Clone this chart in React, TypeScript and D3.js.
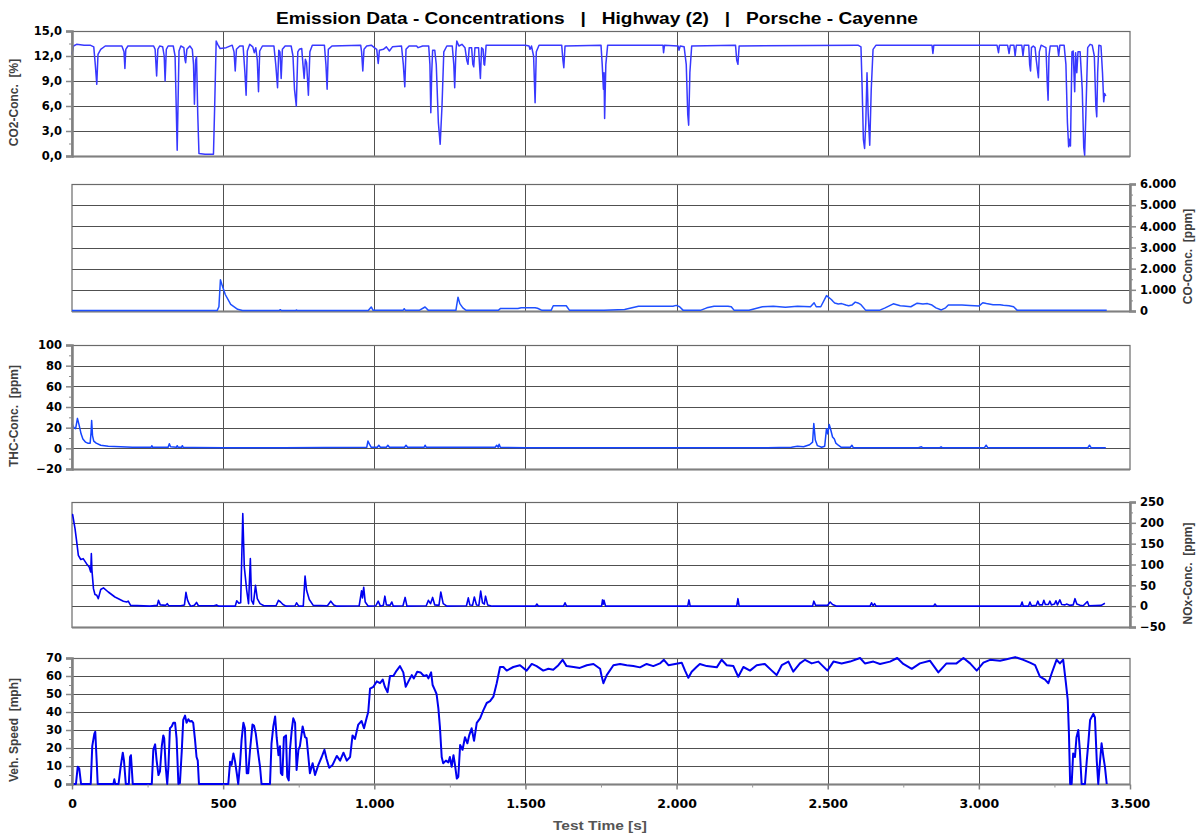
import * as d3 from "d3";
import { useEffect, useRef } from "react";

// [time s, value]
const co2: [number, number][] = [
  [0, 12.2], [5, 13.2], [15, 13.4], [40, 13.3], [60, 13.3], [72, 13.1], [77, 11], [82, 8.6], [86, 12.2], [95, 12.8], [110, 13.2],
  [165, 13.2], [172, 12.5], [175, 10.5], [178, 12.8], [185, 13.2], [270, 13.2], [275, 12.8], [280, 9.6], [284, 12.8], [290, 13.2],
  [300, 13.1], [305, 12], [308, 9.0], [312, 12.8], [318, 13.2], [335, 13.2], [341, 12], [348, 0.7], [354, 12.6], [360, 13.2],
  [370, 13], [374, 11.5], [376, 11.2], [380, 12.8], [390, 13.2], [398, 12.8], [402, 11], [405, 6.2], [409, 11.5], [412, 11.9],
  [416, 5], [420, 0.3], [440, 0.2], [468, 0.2], [472, 6], [477, 13.8], [482, 13.4], [490, 12.9], [510, 13.0], [530, 13.3],
  [536, 12.5], [540, 10.2], [544, 12.8], [555, 13.2], [566, 13.2], [572, 10], [576, 7.3], [580, 12.6], [588, 13.4], [598, 13.1],
  [603, 12.4], [608, 13], [613, 11.5], [617, 7.7], [621, 12.6], [630, 13.2], [668, 13.2], [674, 11], [680, 8.2], [684, 12.7],
  [688, 12.5], [692, 9.3], [696, 12.8], [705, 13.2], [725, 13.2], [731, 12.0], [736, 8], [742, 6.0], [747, 12.5], [752, 12.8],
  [760, 12.9], [764, 11], [768, 9.3], [772, 11.6], [776, 11.2], [782, 7.3], [787, 12.5], [795, 13.3], [835, 13.3], [840, 11],
  [844, 8.0], [848, 12.8], [860, 13.2], [955, 13.3], [958, 12.5], [962, 10.2], [966, 12.8], [975, 13.2], [990, 13.3], [1000, 13.0],
  [1008, 12.8], [1013, 11.1], [1017, 12.7], [1030, 12.8], [1040, 13.1], [1050, 12.6], [1060, 13.1], [1090, 13.2], [1096, 11],
  [1101, 8.3], [1105, 12.8], [1115, 13.2], [1140, 13.2], [1145, 13], [1160, 13.2], [1180, 13.2], [1184, 11], [1187, 5.2], [1190, 10],
  [1193, 12.7], [1200, 12.7], [1205, 11], [1212, 4], [1218, 1.4], [1224, 6], [1230, 12.5], [1240, 13.2], [1258, 13.2], [1263, 11],
  [1266, 8.2], [1270, 12.5], [1273, 13.8], [1280, 13.2], [1290, 13.4], [1300, 13], [1306, 11.5], [1310, 11], [1314, 13], [1322, 13],
  [1326, 11], [1329, 10.7], [1333, 13], [1345, 13], [1348, 11], [1351, 9.3], [1355, 13], [1360, 12.8], [1363, 11], [1365, 10.9],
  [1370, 13.3], [1500, 13.3], [1512, 13.2], [1515, 12.8], [1520, 13.2], [1527, 12], [1532, 6.4], [1536, 12.5], [1545, 13.3],
  [1620, 13.3], [1624, 11.5], [1627, 10.6], [1631, 13.2], [1750, 13.3], [1754, 11], [1758, 8.0], [1760, 10], [1762, 4.5],
  [1766, 11], [1772, 13.3], [1955, 13.3], [1957, 12.4], [1960, 13.3], [2005, 13.2], [2008, 12.7], [2012, 13.2], [2025, 13.1],
  [2032, 11], [2037, 5], [2040, 3.7], [2044, 10], [2050, 13.2], [2195, 13.3], [2199, 11.5], [2203, 11], [2207, 13.2], [2600, 13.3],
  [2610, 13.1], [2614, 8], [2618, 2], [2622, 0.9], [2626, 4], [2630, 10], [2634, 5], [2639, 1.3], [2644, 8], [2650, 12.8],
  [2660, 13.3], [2845, 13.3], [2848, 12.3], [2851, 13.3], [3060, 13.3], [3065, 12.4], [3068, 13.3], [3095, 13.3], [3100, 12.3],
  [3104, 13.3], [3116, 13.3], [3120, 12.0], [3124, 13.3], [3142, 13.3], [3146, 12.0], [3150, 13.3], [3165, 13.3], [3168, 11],
  [3171, 10.2], [3174, 13], [3180, 13.2], [3186, 13], [3190, 11.5], [3197, 9.4], [3200, 12.5], [3206, 13.3], [3222, 13], [3226, 9],
  [3229, 6.7], [3232, 12], [3236, 13.2], [3260, 13.2], [3264, 12], [3268, 13.3], [3282, 13.3], [3288, 11], [3293, 4], [3297, 1.1],
  [3300, 2], [3303, 1.2], [3308, 12.5], [3312, 12.6], [3317, 7.7], [3320, 12.4], [3324, 10], [3328, 12.5], [3335, 12.5],
  [3342, 8], [3347, 1], [3350, 0.1], [3354, 5], [3360, 13], [3368, 13.4], [3375, 13.3], [3382, 12], [3387, 6], [3390, 4.7],
  [3393, 10], [3397, 13.3], [3404, 13.2], [3409, 10], [3413, 6.5], [3416, 7.5], [3420, 7.2],
];

const co: [number, number][] = [
  [0, 20], [480, 20], [486, 200], [491, 1480], [497, 1200], [507, 780], [525, 310], [548, 80], [564, 20], [685, 20], [689, 60],
  [693, 20], [740, 20], [742, 50], [746, 20], [980, 20], [990, 190], [996, 30], [1095, 30], [1099, 110], [1103, 30], [1150, 40],
  [1168, 190], [1179, 30], [1270, 30], [1277, 650], [1283, 350], [1293, 150], [1304, 30], [1410, 30], [1418, 120], [1475, 120],
  [1486, 155], [1532, 155], [1540, 130], [1555, 30], [1585, 30], [1592, 250], [1635, 250], [1646, 30], [1737, 40], [1760, 40],
  [1828, 70], [1874, 220], [1988, 220], [1999, 265], [2010, 200], [2022, 30], [2079, 30], [2100, 150], [2124, 220], [2170, 220],
  [2181, 200], [2190, 40], [2204, 30], [2240, 40], [2284, 200], [2320, 230], [2360, 180], [2400, 230], [2443, 200], [2455, 390],
  [2462, 200], [2477, 200], [2496, 730], [2512, 545], [2518, 450], [2523, 380], [2535, 330], [2546, 350], [2560, 280], [2569, 250],
  [2580, 280], [2591, 420], [2600, 380], [2610, 300], [2626, 30], [2671, 30], [2690, 150], [2717, 340], [2740, 250], [2751, 240],
  [2775, 200], [2796, 370], [2815, 330], [2830, 350], [2845, 280], [2858, 150], [2876, 50], [2890, 150], [2899, 280], [2944, 280],
  [2970, 260], [3001, 240], [3013, 390], [3025, 350], [3047, 300], [3070, 300], [3081, 270], [3100, 250], [3115, 200], [3127, 30],
  [3423, 30],
];

const thc: [number, number][] = [
  [0, 24], [6, 20], [12, 19], [18, 29], [24, 22], [30, 14], [36, 9], [45, 6], [52, 5], [60, 5], [63, 15], [65, 27], [68, 12],
  [72, 7], [80, 5], [95, 3], [120, 2], [160, 1.5], [200, 1], [262, 1], [264, 2.5], [267, 1], [318, 1], [322, 4.5], [326, 1.5],
  [345, 1], [348, 2.5], [351, 1], [362, 1], [365, 2.5], [368, 1], [400, 0.8], [500, 0.5], [700, 0.5], [975, 1], [979, 7], [984, 4],
  [990, 1], [1010, 1], [1015, 3], [1020, 1], [1040, 1], [1045, 3], [1050, 1], [1100, 1], [1105, 3], [1110, 1], [1165, 1],
  [1168, 3], [1172, 1], [1400, 1], [1405, 3], [1410, 1], [1413, 4], [1417, 1], [1500, 0.5], [2300, 0.5], [2380, 1], [2400, 2],
  [2420, 1.5], [2440, 3.5], [2450, 6], [2454, 24], [2459, 8], [2466, 2.6], [2480, 1], [2490, 2], [2496, 19], [2500, 14],
  [2505, 23], [2510, 18], [2516, 11], [2522, 9], [2527, 5], [2535, 3], [2545, 1], [2575, 1], [2580, 3], [2585, 0.5], [2800, 0.5],
  [2810, 1.5], [2815, 0.5], [2870, 0.5], [2875, 1.5], [2880, 0.5], [3018, 0.5], [3024, 3], [3030, 0.5], [3360, 0.5], [3366, 3],
  [3372, 0.5], [3420, 0.5],
];

const nox: [number, number][] = [
  [0, 220], [2, 220], [10, 186], [15, 158], [21, 122], [29, 112], [37, 114], [48, 102], [57, 94], [62, 82], [64, 126], [66, 86],
  [71, 42], [76, 28], [82, 26], [87, 18], [95, 40], [104, 44], [120, 34], [142, 22], [170, 12], [181, 10], [186, 12], [194, 2],
  [258, 0], [282, 2], [286, 14], [292, 3], [310, 2], [315, 6], [320, 1], [360, 1], [372, 3], [377, 33], [382, 15], [388, 5],
  [393, 0], [405, 2], [412, 9], [418, 1], [470, 1], [478, 3], [486, 0], [540, 0], [545, 13], [552, 7], [558, 8], [565, 222],
  [570, 94], [578, 38], [584, 6], [590, 114], [594, 14], [600, 5], [607, 50], [613, 18], [622, 6], [635, 1], [675, 1], [683, 14],
  [690, 10], [698, 4], [708, 0], [738, 1], [743, 8], [750, 0], [765, 0], [771, 72], [776, 38], [785, 16], [798, 2], [845, 1],
  [856, 12], [866, 3], [876, 0], [950, 1], [958, 37], [961, 20], [965, 45], [970, 10], [980, 0], [1005, 1], [1013, 12], [1020, 0],
  [1030, 2], [1035, 24], [1040, 3], [1052, 2], [1058, 10], [1063, 0], [1095, 1], [1102, 21], [1108, 0], [1172, 1], [1179, 14],
  [1186, 6], [1193, 21], [1200, 3], [1214, 2], [1220, 34], [1228, 6], [1240, 0], [1305, 1], [1311, 20], [1316, 3], [1325, 2],
  [1331, 22], [1338, 3], [1346, 2], [1352, 36], [1358, 8], [1364, 5], [1368, 24], [1375, 3], [1390, 0], [1533, 0], [1538, 5],
  [1543, 0], [1626, 0], [1631, 8], [1636, 0], [1752, 0], [1755, 15], [1758, 5], [1760, 14], [1765, 0], [2037, 0], [2041, 15],
  [2045, 0], [2199, 0], [2203, 18], [2207, 0], [2450, 0], [2454, 12], [2460, 2], [2500, 2], [2508, 10], [2516, 4], [2530, 0],
  [2640, 0], [2645, 8], [2650, 1], [2655, 6], [2660, 0], [2850, 0], [2855, 5], [2860, 0], [3138, 0], [3143, 10], [3147, 0],
  [3164, 0], [3169, 10], [3174, 1], [3190, 2], [3195, 12], [3200, 3], [3210, 3], [3215, 14], [3220, 4], [3230, 4], [3235, 12],
  [3240, 3], [3250, 5], [3255, 13], [3260, 3], [3268, 15], [3274, 4], [3285, 3], [3290, 5], [3300, 2], [3312, 3], [3318, 18],
  [3324, 5], [3335, 2], [3345, 1], [3359, 11], [3364, 1], [3405, 2], [3417, 7],
];

const speed: [number, number][] = [
  [0, 0], [13, 0], [19, 9.6], [24, 8.5], [30, 0], [62, 0], [67, 21], [74, 28], [77, 29], [82, 11.5], [85, 0], [137, 0], [140, 2.6],
  [143, 0], [154, 0], [161, 9.6], [168, 17.4], [172, 13], [178, 0], [188, 0], [192, 15], [195, 16], [201, 0], [264, 0], [269, 19],
  [275, 22], [280, 13], [286, 5], [291, 7], [297, 21], [302, 27], [305, 25.4], [310, 9.6], [315, 0], [319, 9.6], [324, 31],
  [330, 32], [335, 34], [341, 34], [346, 25.4], [352, 0], [357, 0.5], [363, 18], [368, 35.6], [374, 38], [379, 34], [385, 36],
  [390, 34.7], [396, 35], [401, 34], [407, 24.5], [412, 15], [416, 13], [420, 0], [517, 0], [523, 12.4], [528, 10.6], [534, 17],
  [539, 13], [545, 6], [550, 0], [556, 11.5], [561, 24.5], [567, 34], [572, 31], [578, 6], [583, 6], [589, 19], [597, 33],
  [602, 32.5], [608, 28], [616, 17], [622, 9.6], [627, 0], [655, 0], [660, 22.6], [666, 32], [672, 37.5], [677, 26], [683, 16],
  [688, 21], [691, 6], [696, 5], [701, 26], [708, 27], [712, 4], [717, 2], [721, 19], [727, 30], [732, 36.5], [738, 34],
  [743, 7.8], [749, 19], [754, 21], [763, 32], [771, 26], [776, 25.5], [782, 15], [787, 6], [796, 11.5], [804, 5], [815, 10.6],
  [826, 15], [835, 19], [842, 14], [851, 9], [862, 10.6], [876, 15.6], [887, 13], [898, 17.4], [909, 13], [920, 15], [928, 27],
  [936, 25], [947, 33], [958, 35], [966, 31], [975, 37], [980, 40], [986, 53], [997, 54], [1008, 57], [1019, 56], [1028, 58],
  [1035, 54], [1044, 51], [1052, 60], [1063, 60], [1074, 63], [1085, 65.5], [1096, 62], [1104, 54], [1113, 57], [1124, 60.5],
  [1131, 58.7], [1142, 62.4], [1153, 62], [1164, 60], [1173, 60.5], [1179, 58.7], [1188, 62], [1193, 55], [1201, 52], [1206, 50],
  [1212, 42], [1217, 32], [1223, 15], [1228, 11.5], [1237, 13], [1245, 12], [1250, 15], [1256, 9.6], [1262, 16], [1267, 10.6],
  [1273, 3], [1278, 4], [1284, 21.7], [1292, 19], [1300, 26], [1308, 22.6], [1314, 27], [1322, 31], [1330, 24], [1339, 34],
  [1350, 36.5], [1361, 41], [1372, 45], [1383, 46], [1394, 48.5], [1405, 56], [1416, 65], [1427, 65], [1438, 63], [1460, 65],
  [1482, 66], [1504, 63], [1521, 66.7], [1537, 65.5], [1559, 63], [1576, 64], [1592, 63.5], [1609, 66], [1623, 69], [1636, 65.5],
  [1659, 65], [1680, 64.5], [1703, 66], [1725, 66.7], [1747, 64], [1752, 60], [1758, 56], [1769, 60.5], [1791, 66], [1813, 66.7],
  [1835, 66], [1857, 65.5], [1879, 64.8], [1901, 66.7], [1923, 65.5], [1945, 67], [1958, 69], [1973, 66], [1995, 66.7],
  [2017, 67.4], [2028, 63], [2039, 59], [2050, 62.4], [2066, 65], [2077, 66.7], [2100, 65.5], [2133, 64.8], [2149, 69],
  [2166, 66], [2188, 65.5], [2204, 59.6], [2221, 65], [2243, 63], [2265, 66], [2292, 66.7], [2315, 63], [2331, 60.5], [2348, 66],
  [2370, 68], [2386, 62.4], [2408, 67], [2425, 69], [2447, 67], [2469, 68], [2499, 63], [2519, 68], [2546, 67], [2574, 68],
  [2607, 70], [2623, 67], [2651, 68], [2673, 66.7], [2706, 68], [2730, 70], [2750, 66.7], [2778, 64], [2805, 67], [2838, 68.5],
  [2866, 62], [2893, 67], [2926, 67], [2949, 70], [2971, 67], [2993, 63], [3015, 67.4], [3037, 69], [3070, 68.5], [3092, 69.3],
  [3120, 70.5], [3147, 69], [3169, 67.4], [3186, 66], [3202, 59.6], [3219, 58], [3230, 56], [3241, 61.5], [3257, 69], [3268, 67],
  [3279, 69], [3288, 56], [3294, 46.7], [3298, 28], [3302, 0], [3307, 0], [3312, 17], [3318, 15], [3323, 26], [3329, 30],
  [3334, 19], [3340, 0], [3351, 0], [3357, 13], [3362, 22.6], [3368, 35.6], [3379, 39], [3384, 37], [3390, 13], [3395, 0],
  [3401, 13], [3406, 22.6], [3412, 15], [3417, 9.6], [3423, 0],
];

const xTicks = [0, 500, 1000, 1500, 2000, 2500, 3000, 3500];
const xMinor = [250, 750, 1250, 1750, 2250, 2750, 3250];
const title = "Emission Data - Concentrations   |   Highway (2)   |   Porsche - Cayenne";

const de = d3.formatLocale({ decimal: ",", thousands: ".", grouping: [3], currency: ["", "€"] });

interface Panel {
  data: [number, number][];
  top: number;
  bottom: number;
  domain: [number, number];
  step: number;
  side: "left" | "right";
  label: string;
  fmt: (n: number) => string;
  color: string;
  width: number;
}

const panels: Panel[] = [
  { data: co2, top: 31, bottom: 156, domain: [0, 15], step: 3, side: "left", label: "CO2-Conc.  [%]", fmt: de.format(".1f"), color: "#3838ff", width: 1.5 },
  { data: co, top: 184, bottom: 311, domain: [0, 6000], step: 1000, side: "right", label: "CO-Conc.  [ppm]", fmt: de.format(",d"), color: "#1f50ff", width: 1.5 },
  { data: thc, top: 345, bottom: 469, domain: [-20, 100], step: 20, side: "left", label: "THC-Conc.  [ppm]", fmt: de.format("d"), color: "#1444ff", width: 1.5 },
  { data: nox, top: 502, bottom: 627, domain: [-50, 250], step: 50, side: "right", label: "NOx-Conc.  [ppm]", fmt: de.format("d"), color: "#0000f0", width: 1.6 },
  { data: speed, top: 658, bottom: 784, domain: [0, 70], step: 10, side: "left", label: "Veh. Speed  [mph]", fmt: de.format("d"), color: "#0000f0", width: 2 },
];

const W = 1204;
const H = 836;
const x0 = 72;
const x1 = 1130;

export default function App() {
  const ref = useRef<SVGSVGElement>(null);

  useEffect(() => {
    if (!ref.current) return;
    const svg = d3.select(ref.current);
    svg.selectAll("*").remove();

    const x = d3.scaleLinear().domain([0, 3500]).range([x0, x1]);

    svg
      .append("text")
      .attr("x", 597)
      .attr("y", 24)
      .attr("text-anchor", "middle")
      .attr("font-family", "Liberation Sans, Arial, sans-serif")
      .attr("font-weight", "bold")
      .attr("font-size", 16)
      .attr("textLength", 642)
      .attr("lengthAdjust", "spacingAndGlyphs")
      .style("white-space", "pre")
      .text(title);

    panels.forEach((p) => {
      const y = d3.scaleLinear().domain(p.domain).range([p.bottom, p.top]);
      const g = svg.append("g");
      const major = d3.range(p.domain[0], p.domain[1] + p.step / 2, p.step);
      const minor = d3.range(p.domain[0] + p.step / 2, p.domain[1], p.step);

      // grid
      g.append("g")
        .selectAll("line")
        .data(major)
        .join("line")
        .attr("x1", x0)
        .attr("x2", x1)
        .attr("y1", (d) => Math.round(y(d)) + 0.5)
        .attr("y2", (d) => Math.round(y(d)) + 0.5)
        .attr("stroke", "#505050")
        .attr("stroke-width", 1);
      g.append("g")
        .selectAll("line")
        .data(xTicks.slice(1, -1))
        .join("line")
        .attr("x1", (d) => Math.round(x(d)) + 0.5)
        .attr("x2", (d) => Math.round(x(d)) + 0.5)
        .attr("y1", p.top)
        .attr("y2", p.bottom)
        .attr("stroke", "#505050")
        .attr("stroke-width", 1);

      // frame
      g.append("rect")
        .attr("x", x0)
        .attr("y", Math.round(p.top) + 0.5)
        .attr("width", x1 - x0)
        .attr("height", Math.round(p.bottom) - Math.round(p.top))
        .attr("fill", "none")
        .attr("stroke", "#6a6a6a")
        .attr("stroke-width", 1.2);
      g.append("line")
        .attr("x1", x0)
        .attr("x2", x1)
        .attr("y1", p.bottom + 0.5)
        .attr("y2", p.bottom + 0.5)
        .attr("stroke", "#808080")
        .attr("stroke-width", 2);

      // series
      const line = d3
        .line<[number, number]>()
        .x((d) => x(d[0]))
        .y((d) => y(d[1]));
      g.append("path")
        .datum(p.data)
        .attr("d", line)
        .attr("fill", "none")
        .attr("stroke", p.color)
        .attr("stroke-width", p.width)
        .attr("stroke-linejoin", "round");

      // y axis
      const ax = p.side === "left" ? d3.axisLeft(y) : d3.axisRight(y);
      const axMinor = p.side === "left" ? d3.axisLeft(y) : d3.axisRight(y);
      const ax0 = p.side === "left" ? x0 : x1;
      const yAxis = g
        .append("g")
        .attr("transform", `translate(${ax0},0)`)
        .call(ax.tickValues(major).tickSize(6).tickPadding(4).tickFormat((d) => p.fmt(+d)));
      g.append("g")
        .attr("transform", `translate(${ax0},0)`)
        .call(axMinor.tickValues(minor).tickSize(3).tickFormat(() => ""))
        .call((s) => s.select(".domain").remove())
        .selectAll("line")
        .attr("stroke", "#888");
      yAxis.select(".domain").attr("stroke", "#808080").attr("stroke-width", 2.5);
      yAxis.selectAll(".tick line").attr("stroke", "#888").attr("stroke-width", 1.5);
      yAxis
        .selectAll("text")
        .attr("font-family", "DejaVu Sans, sans-serif")
        .attr("font-weight", "bold")
        .attr("font-size", 11.5)
        .attr("fill", "#000");

      const cy = (p.top + p.bottom) / 2 + 9;
      const lx = p.side === "left" ? 18 : 1192;
      g.append("text")
        .attr("transform", `translate(${lx},${cy}) rotate(-90)`)
        .attr("text-anchor", "middle")
        .attr("font-family", "Liberation Sans, Arial, sans-serif")
        .attr("font-weight", "bold")
        .attr("font-size", 12)
        .attr("fill", "#404040")
        .style("white-space", "pre")
        .text(p.label);
    });

    // x axis
    const last = panels[panels.length - 1];
    const xa = svg
      .append("g")
      .attr("transform", `translate(0,${last.bottom + 0.5})`)
      .call(d3.axisBottom(x).tickValues(xTicks).tickSize(5).tickPadding(10).tickFormat((d) => de.format(",d")(+d)));
    xa.select(".domain").remove();
    xa.selectAll(".tick line").attr("stroke", "#808080").attr("stroke-width", 1.5);
    xa.selectAll("text")
      .attr("font-family", "DejaVu Sans, sans-serif")
      .attr("font-weight", "bold")
      .attr("font-size", 12.5)
      .attr("fill", "#000");
    svg
      .append("g")
      .attr("transform", `translate(0,${last.bottom + 0.5})`)
      .call(d3.axisBottom(x).tickValues(xMinor).tickSize(3).tickFormat(() => ""))
      .call((s) => s.select(".domain").remove())
      .selectAll("line")
      .attr("stroke", "#999");

    svg
      .append("text")
      .attr("x", 600)
      .attr("y", 830)
      .attr("text-anchor", "middle")
      .attr("font-family", "Liberation Sans, Arial, sans-serif")
      .attr("font-weight", "bold")
      .attr("font-size", 13)
      .attr("textLength", 94)
      .attr("lengthAdjust", "spacingAndGlyphs")
      .attr("fill", "#555")
      .text("Test Time [s]");
  }, []);

  return (
    <svg
      ref={ref}
      width={W}
      height={H}
      style={{ position: "absolute", left: 0, top: 0, background: "#fff" }}
    />
  );
}
